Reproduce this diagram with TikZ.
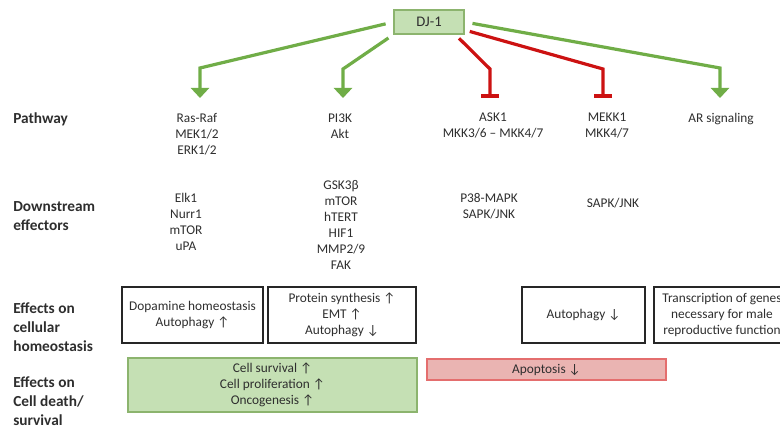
\documentclass[tikz,border=0pt]{standalone}
\usepackage{fontspec}
\setmainfont{Carlito}
\usetikzlibrary{arrows.meta, positioning}
\definecolor{ActivateGreen}{RGB}{112,173,71}
\definecolor{InhibitRed}{RGB}{204,18,18}
\definecolor{SurvivalFill}{RGB}{197,224,180}
\definecolor{SurvivalLine}{RGB}{140,180,110}
\definecolor{ApoptosisFill}{RGB}{234,180,178}
\definecolor{ApoptosisLine}{RGB}{228,110,110}
\colorlet{TextGray}{black!82}
\tikzset{
    activate/.style={draw=ActivateGreen, line width=2.4pt,
        -{Triangle[width=13.5pt,length=7.5pt]}},
    inhibit/.style={draw=InhibitRed, line width=2.4pt,
        -{Bar[width=13.5pt,line width=2.8pt]}},
    row label/.style={anchor=west, align=left, text=TextGray, inner sep=0pt,
        font=\fontsize{11.5}{14}\selectfont\bfseries},
    entry/.style={align=center, text=TextGray,
        font=\fontsize{10}{12}\selectfont},
    effect box/.style={entry, draw=black!85, line width=0.9pt,
        minimum height=42pt, inner sep=1pt}
}

\begin{document}
\begin{tikzpicture}[x=0.75pt, y=-0.75pt]

    \useasboundingbox (0,0) rectangle (780,431);
    \clip (0,0) rectangle (780,431);

    \node [entry, draw=SurvivalLine, fill=SurvivalFill, line width=0.9pt,
        font=\fontsize{11}{13}\selectfont,
        minimum width=52.5pt, minimum height=18pt, inner sep=0pt] (dj) at (429,22) {DJ-1};

    % Puntos de quiebre y puntas
    \coordinate (b1) at (200,68);  \coordinate (t1) at (200,98);
    \coordinate (b2) at (343,69);  \coordinate (t2) at (343,98);
    \coordinate (b3) at (490,69);  \coordinate (t3) at (490,98);
    \coordinate (b4) at (603,69);  \coordinate (t4) at (603,98);
    \coordinate (b5) at (720,68);  \coordinate (t5) at (720,98);

    \draw [activate, shorten <=6pt] (dj.west) -- (b1) -- (t1);
    \draw [activate, shorten <=4.5pt] (dj.south west) -- (b2) -- (t2);
    \draw [inhibit, shorten <=4pt] ([xshift=-7pt]dj.south east) -- (b3) -- (t3);
    \draw [inhibit, shorten <=4pt] ([yshift=-6pt]dj.east) -- (b4) -- (t4);
    \draw [activate, shorten <=6pt] (dj.east) -- (b5) -- (t5);

    % Filas
    \node [row label] (lpath) at (13,119) {Pathway};
    \node [row label] (ldown) at (13,216) {Downstream\\effectors};
    \node [row label] (lhomeo) at (13,327) {Effects on\\cellular\\homeostasis};
    \node [row label] (ldeath) at (13,401) {Effects on\\Cell death/\\survival};

    % Vias
    \node [entry] (ras) at (197,134) {Ras-Raf\\MEK1/2\\ERK1/2};
    \node [entry] (pi3k) at (340,126) {PI3K\\Akt};
    \node [entry] (ask) at (493,125) {ASK1\\MKK3/6 -- MKK4/7};
    \node [entry] (mekk) at (607,125) {MEKK1\\MKK4/7};
    \node [entry] (ar) at (721,119) {AR signaling};

    % Efectores
    \node [entry] (elk) at (186,222) {Elk1\\Nurr1\\mTOR\\uPA};
    \node [entry] (gsk) at (341,225) {GSK3β\\mTOR\\hTERT\\HIF1\\MMP2/9\\FAK};
    \node [entry] (p38) at (489,206) {P38-MAPK\\SAPK/JNK};
    \node [entry] (sapk) at (613,203) {SAPK/JNK};

    % Homeostasis celular
    \node [effect box, minimum width=105.75pt] (dopa) at (192.5,315)
        {Dopamine homeostasis\\Autophagy ↑};
    \node [effect box, minimum width=111pt] (prot) at (342,315)
        {Protein synthesis ↑\\EMT ↑\\Autophagy ↓};
    \node [effect box, minimum width=92.25pt] (auto) at (583.5,315)
        {Autophagy ↓};
    \node [effect box, minimum width=102pt] (trans) at (722,315)
        {Transcription of genes\\necessary for male\\reproductive function};

    % Muerte / supervivencia
    \node [entry, draw=SurvivalLine, fill=SurvivalFill, line width=0.9pt,
        minimum width=216.75pt, minimum height=40.5pt, inner sep=0pt] (surv) at (272.5,385)
        {Cell survival ↑\\Cell proliferation ↑\\Oncogenesis ↑};
    \node [entry, draw=ApoptosisLine, fill=ApoptosisFill, line width=0.9pt,
        minimum width=179.25pt, minimum height=15.75pt, inner sep=0pt] (apop) at (546.5,369.5)
        {Apoptosis ↓};

\end{tikzpicture}
\end{document}
